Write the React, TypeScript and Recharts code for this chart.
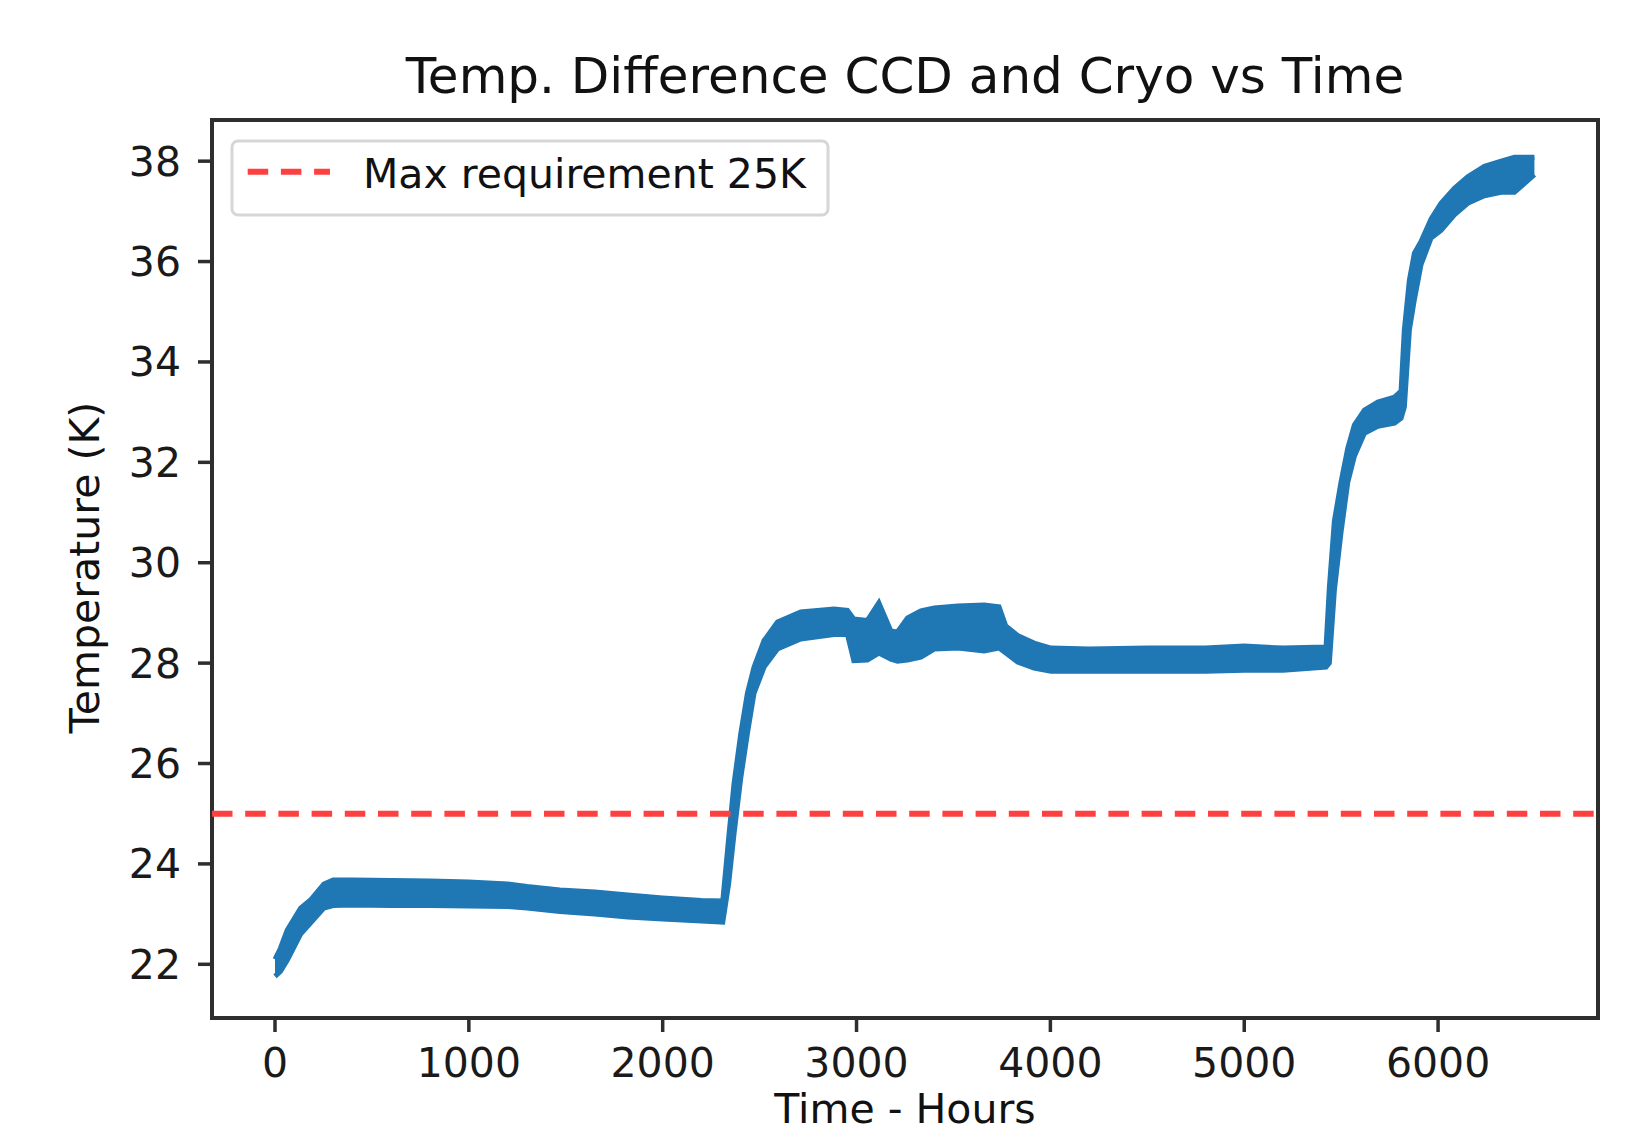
import { ComposedChart, Area, Line, XAxis, YAxis, ReferenceLine, ReferenceArea } from 'recharts'

// time in hours, lower / upper edge of the noisy temperature band (K)
const hours = [
    0, 28, 63, 132, 183, 252, 300, 400, 600, 800, 1000, 1200, 1300, 1470, 1650, 1820, 2000, 2200, 2310,
    2340, 2368, 2403, 2437, 2471, 2523, 2592, 2712, 2884, 2953, 2986, 3056, 3115, 3177,
    3211, 3263, 3332, 3401, 3523, 3658, 3735, 3770, 3831, 3916, 4003, 4200, 4500, 4800,
    5000, 5200, 5422, 5439, 5465, 5499, 5534, 5568, 5620, 5689, 5775, 5809, 5826, 5852,
    5878, 5912, 5964, 6015, 6084, 6153, 6239, 6325, 6394, 6497,
]
const tempLow = [
    21.76, 21.86, 22.08, 22.6, 22.82, 23.12, 23.17, 23.18, 23.17, 23.17, 23.16, 23.15, 23.12, 23.05, 23.0, 22.94, 22.9, 22.86, 22.84,
    23.6, 24.6, 25.72, 26.6, 27.4, 27.92, 28.28, 28.48, 28.57, 28.57, 28.05, 28.06, 28.2, 28.08,
    28.04, 28.06, 28.12, 28.28, 28.3, 28.24, 28.3, 28.2, 28.02, 27.9, 27.84, 27.84, 27.84, 27.84,
    27.86, 27.86, 27.92, 28.0, 29.45, 30.6, 31.6, 32.12, 32.58, 32.72, 32.78, 32.88, 33.1, 34.64,
    35.25, 35.94, 36.47, 36.62, 36.93, 37.16, 37.31, 37.38, 37.38, 37.73,
]
const tempHigh = [
    22.1, 22.32, 22.68, 23.12, 23.28, 23.6, 23.68, 23.68, 23.67, 23.66, 23.64, 23.6, 23.55, 23.48, 23.44, 23.38, 23.32, 23.27, 23.26,
    24.5, 25.6, 26.6, 27.4, 27.92, 28.45, 28.82, 29.02, 29.08, 29.05, 28.88, 28.85, 29.2, 28.64,
    28.62, 28.9, 29.04, 29.1, 29.14, 29.16, 29.12, 28.74, 28.55, 28.4, 28.3, 28.28, 28.3, 28.3,
    28.34, 28.3, 28.32, 29.5, 30.83, 31.6, 32.28, 32.74, 33.04, 33.2, 33.3, 33.42, 34.64, 35.63,
    36.17, 36.4, 36.85, 37.16, 37.46, 37.69, 37.9, 38.0, 38.08, 38.08,
]

const xTicks = [0, 1000, 2000, 3000, 4000, 5000, 6000]
const yTicks = [22, 24, 26, 28, 30, 32, 34, 36, 38]
const xDomain = [-325, 6825]
const yDomain = [20.93, 38.82]
const maxRequirement = 25

const TITLE = 'Temp. Difference CCD and Cryo vs Time'
const X_LABEL = 'Time - Hours'
const Y_LABEL = 'Temperature (K)'
const LEGEND_LABEL = 'Max requirement 25K'

const BLUE = '#1f77b4'
const RED = '#ff4040'
const AXIS = '#2e2e2e'
const FONT = '"DejaVu Sans", Verdana, sans-serif'

const W = 1630
const H = 1133

export default function App() {
    const data = hours.map((h, i) => ({
        h,
        low: tempLow[i],
        high: tempHigh[i],
        band: [tempLow[i], tempHigh[i]],
    }))

    const tickStyle = { fill: '#1a1a1a', fontSize: 41, fontFamily: FONT }

    return (
        <div style={{ position: 'absolute', left: 0, top: 0, width: W, height: H, overflow: 'hidden', background: '#fff' }}>
            <ComposedChart
                width={W}
                height={H}
                data={data}
                margin={{ top: 120, right: 32, bottom: 0, left: 0 }}
            >
                <XAxis
                    type="number"
                    dataKey="h"
                    domain={xDomain}
                    ticks={xTicks}
                    allowDataOverflow
                    height={115}
                    axisLine={false}
                    tickSize={14}
                    tickMargin={16}
                    tickLine={{ stroke: AXIS, strokeWidth: 3.5 }}
                    tick={tickStyle}
                />
                <YAxis
                    type="number"
                    domain={yDomain}
                    ticks={yTicks}
                    allowDataOverflow
                    width={212}
                    axisLine={false}
                    tickSize={14}
                    tickMargin={17}
                    tickLine={{ stroke: AXIS, strokeWidth: 3.5 }}
                    tick={tickStyle}
                />
                <Area
                    type="linear"
                    dataKey="band"
                    fill={BLUE}
                    fillOpacity={1}
                    stroke="none"
                    isAnimationActive={false}
                />
                <Line type="linear" dataKey="low" stroke={BLUE} strokeWidth={5} dot={false} isAnimationActive={false} />
                <Line type="linear" dataKey="high" stroke={BLUE} strokeWidth={5} dot={false} isAnimationActive={false} />
                <ReferenceLine
                    y={maxRequirement}
                    stroke={RED}
                    strokeWidth={6}
                    strokeDasharray="20.5 12.7"
                />
                <ReferenceArea
                    x1={xDomain[0]}
                    x2={xDomain[1]}
                    y1={yDomain[0]}
                    y2={yDomain[1]}
                    fill="none"
                    stroke={AXIS}
                    strokeWidth={4}
                    ifOverflow="visible"
                />
            </ComposedChart>

            <svg
                width={W}
                height={H}
                style={{ position: 'absolute', left: 0, top: 0, pointerEvents: 'none' }}
            >
                <text x={905} y={93} textAnchor="middle" fontSize={50} fontFamily={FONT} fill="#111">
                    {TITLE}
                </text>
                <text x={905} y={1123} textAnchor="middle" fontSize={41} fontFamily={FONT} fill="#111">
                    {X_LABEL}
                </text>
                <text
                    x={99}
                    y={567.5}
                    textAnchor="middle"
                    fontSize={41}
                    fontFamily={FONT}
                    fill="#111"
                    transform="rotate(-90 99 567.5)"
                >
                    {Y_LABEL}
                </text>

                {/* legend */}
                <rect x={232} y={141} width={596} height={74} rx={6} fill="#fff" fillOpacity={0.8} stroke="#d6d6d6" strokeWidth={3} />
                <line x1={247.7} x2={330} y1={171.7} y2={171.7} stroke={RED} strokeWidth={6} strokeDasharray="20.5 12.7" />
                <text x={363} y={187.7} fontSize={41} fontFamily={FONT} fill="#111">
                    {LEGEND_LABEL}
                </text>
            </svg>
        </div>
    )
}
